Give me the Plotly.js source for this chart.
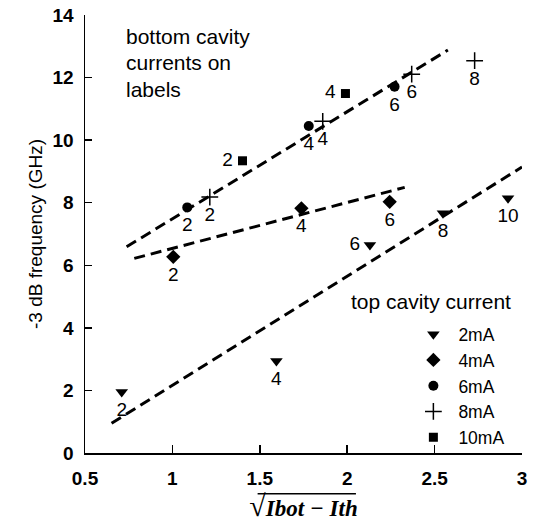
<!DOCTYPE html>
<html>
<head>
<meta charset="utf-8">
<script src="https://cdn.plot.ly/plotly-3.0.1.min.js"></script>
<style>html,body{margin:0;padding:0;background:#fff;}</style>
</head>
<body>
<div id="chart" style="width:534px;height:522px;"></div>
<script>
// top cavity current series (x = sqrt(Ibot-Ith), y = -3 dB frequency GHz), labels = bottom cavity current
const x2mA = [0.71, 1.595, 2.13, 2.548, 2.92];
const y2mA = [1.95, 2.94, 6.65, 7.66, 8.14];
const lab2mA = ['2', '4', '6', '8', '10'];
const pos2mA = ['bottom center', 'bottom center', 'middle left', 'bottom center', 'bottom center'];

const x4mA = [1.005, 1.738, 2.243];
const y4mA = [6.27, 7.82, 8.03];
const lab4mA = ['2', '4', '6'];
const pos4mA = ['bottom center', 'bottom center', 'bottom center'];

const x6mA = [1.085, 1.78, 2.271];
const y6mA = [7.85, 10.45, 11.71];
const lab6mA = ['2', '4', '6'];
const pos6mA = ['bottom center', 'bottom center', 'bottom center'];

const x8mA = [1.214, 1.86, 2.369, 2.729];
const y8mA = [8.18, 10.6, 12.11, 12.54];
const lab8mA = ['2', '4', '6', '8'];
const pos8mA = ['bottom center', 'bottom center', 'bottom center', 'bottom center'];

const x10mA = [1.401, 1.99];
const y10mA = [9.34, 11.49];
const lab10mA = ['2', '4'];
const pos10mA = ['middle left', 'middle left'];

// dashed trend lines
const fitTopX = [0.738, 2.576];
const fitTopY = [6.59, 12.88];
const fitMidX = [0.782, 2.329];
const fitMidY = [6.22, 8.49];
const fitLowX = [0.652, 3.0];
const fitLowY = [0.95, 9.14];

const seriesNames = ['2mA', '4mA', '6mA', '8mA', '10mA'];

const FONT = 'Liberation Sans, Arial, sans-serif';
const markerDefs = [
  {symbol: 'triangle-down', size: 11, color: '#000'},
  {symbol: 'diamond', size: 11, color: '#000'},
  {symbol: 'circle', size: 10, color: '#000'},
  {symbol: 'cross-thin', size: 12, color: '#000', line: {color: '#000', width: 1.5}},
  {symbol: 'square', size: 9, color: '#000'}
];
const series = [
  [x2mA, y2mA, lab2mA, pos2mA],
  [x4mA, y4mA, lab4mA, pos4mA],
  [x6mA, y6mA, lab6mA, pos6mA],
  [x8mA, y8mA, lab8mA, pos8mA],
  [x10mA, y10mA, lab10mA, pos10mA]
];

const dashLine = {color: '#000', width: 3, dash: '11px,6px'};
const traces = [
  {x: fitTopX, y: fitTopY, mode: 'lines', line: dashLine, showlegend: false, hoverinfo: 'skip'},
  {x: fitMidX, y: fitMidY, mode: 'lines', line: dashLine, showlegend: false, hoverinfo: 'skip'},
  {x: fitLowX, y: fitLowY, mode: 'lines', line: dashLine, showlegend: false, hoverinfo: 'skip'}
];
series.forEach((s, i) => {
  traces.push({
    x: s[0], y: s[1], mode: 'markers', name: seriesNames[i],
    marker: markerDefs[i], showlegend: true
  });
});
series.forEach((s, i) => {
  traces.push({
    x: s[0], y: s[1], mode: 'markers+text', text: s[2], textposition: s[3],
    marker: {size: 14, color: 'rgba(0,0,0,0)'},
    textfont: {family: FONT, size: 19, color: '#000'},
    showlegend: false, hoverinfo: 'skip', cliponaxis: false
  });
});

const layout = {
  width: 534, height: 522,
  margin: {l: 85, r: 12, t: 15, b: 69},
  paper_bgcolor: '#fff', plot_bgcolor: '#fff',
  font: {family: FONT, color: '#000'},
  showlegend: true,
  legend: {
    x: 0.74, xanchor: 'left', y: 0.312, yanchor: 'top',
    font: {family: FONT, size: 17.5, color: '#000'},
    bgcolor: 'rgba(0,0,0,0)', itemwidth: 40, tracegroupgap: 0
  },
  xaxis: {
    range: [0.5, 3], dtick: 0.5, tick0: 0.5,
    showline: true, linecolor: '#000', linewidth: 1.5,
    ticks: 'inside', ticklen: 8, tickwidth: 1.5, tickcolor: '#000',
    showgrid: false, zeroline: false,
    tickfont: {family: FONT, size: 19, weight: 'bold', color: '#000'},
    ticklabelstandoff: 8,
    title: {
      text: "<span style='font-size:30px;font-weight:normal'>√</span><b><i>Ibot − Ith</i></b>",
      font: {family: 'Liberation Serif, Times New Roman, serif', size: 23, color: '#000'},
      standoff: 11
    }
  },
  yaxis: {
    range: [0, 14], dtick: 2,
    showline: true, linecolor: '#000', linewidth: 1.5,
    ticks: 'inside', ticklen: 7, tickwidth: 1.5, tickcolor: '#000',
    showgrid: false, zeroline: false,
    tickfont: {family: FONT, size: 19, weight: 'bold', color: '#000'},
    ticklabelstandoff: 6,
    title: {
      text: '-3 dB frequency (GHz)',
      font: {family: FONT, size: 19, color: '#000'},
      standoff: 5
    }
  },
  shapes: [
    {type: 'line', xref: 'paper', yref: 'paper', x0: 0.395, x1: 0.62, y0: -0.093, y1: -0.093,
     line: {color: '#000', width: 1.5}}
  ],
  annotations: [
    {xref: 'paper', yref: 'paper', x: 0.792, y: 0.345, xanchor: 'center', yanchor: 'middle',
     text: 'top cavity current', showarrow: false, font: {family: FONT, size: 21, color: '#000'}},
    {xref: 'paper', yref: 'paper', x: 0.09, y: 0.952, xanchor: 'left', yanchor: 'middle',
     text: 'bottom cavity', showarrow: false, font: {family: FONT, size: 21, color: '#000'}},
    {xref: 'paper', yref: 'paper', x: 0.09, y: 0.891, xanchor: 'left', yanchor: 'middle',
     text: 'currents on', showarrow: false, font: {family: FONT, size: 21, color: '#000'}},
    {xref: 'paper', yref: 'paper', x: 0.09, y: 0.830, xanchor: 'left', yanchor: 'middle',
     text: 'labels', showarrow: false, font: {family: FONT, size: 21, color: '#000'}}
  ]
};

Plotly.newPlot('chart', traces, layout, {displayModeBar: false, staticPlot: true});
</script>
</body>
</html>
